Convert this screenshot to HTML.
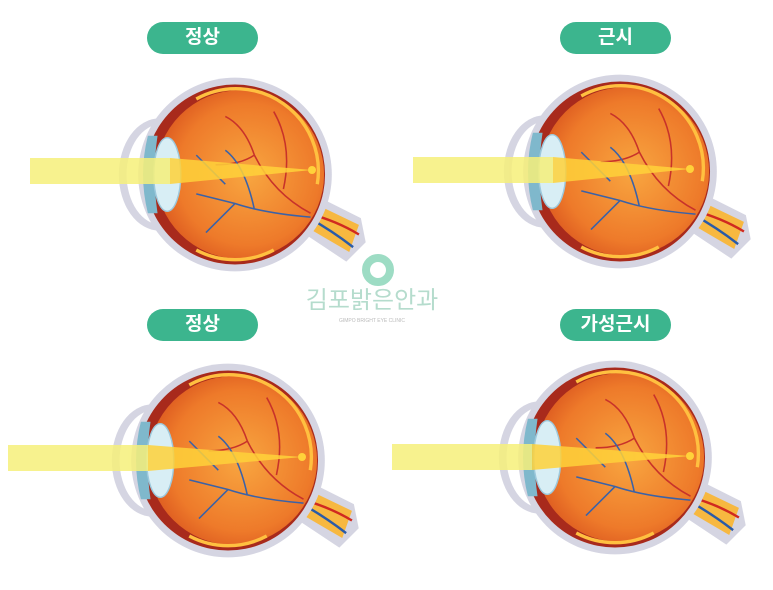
<!DOCTYPE html>
<html><head><meta charset="utf-8"><style>
body{margin:0;background:#fff;width:773px;height:590px;overflow:hidden;font-family:"Liberation Sans","Noto Sans CJK KR",sans-serif}
.pill{position:absolute;height:32px;width:111px;border-radius:16px;background:#3cb58e;color:#fff;font-weight:bold;font-size:19px;text-align:center;line-height:32px}
svg{position:absolute;left:0;top:0}
</style></head><body>
<svg width="773" height="590" viewBox="0 0 773 590">
<defs>
<radialGradient id="g" cx="0.55" cy="0.5" r="0.6"><stop offset="0" stop-color="#f8a640"/><stop offset="0.7" stop-color="#ee7a2a"/><stop offset="1" stop-color="#d9541e"/></radialGradient>
<symbol id="eye" viewBox="-130 -110 260 220" overflow="visible">
<path d="M80 20 L130 45 L135 70 L115 90 L70 60Z" fill="#d5d5e2"/>
<path d="M78 28 L128 52 L118 80 L70 52Z" fill="#f7b840"/>
<path d="M75 40 Q105 48 128 62" stroke="#d02a20" stroke-width="2.5" fill="none"/>
<path d="M75 44 Q100 58 122 75" stroke="#2a5ba8" stroke-width="2.5" fill="none"/>
<ellipse cx="-78" cy="0" rx="42" ry="58" fill="#d5d5e2"/>
<ellipse cx="-76" cy="0" rx="36" ry="52" fill="#fff"/>
<circle r="100" fill="#d5d5e2"/>
<circle r="93" fill="#a82a1c"/>
<circle cx="5" r="87" fill="url(#g)"/>
<path d="M-40 -78 A85 85 0 0 1 85 10" stroke="#ffc040" stroke-width="3.5" fill="none"/>
<path d="M-40 78 A85 85 0 0 0 40 78" stroke="#ffc040" stroke-width="3.5" fill="none"/>
<path d="M-90 -40 Q-100 0 -90 40 L-80 40 Q-86 0 -80 -40Z" fill="#7fb8cc"/>
<ellipse cx="-70" cy="0" rx="14" ry="38" fill="#d8eef5" stroke="#9cc8dc" stroke-width="1.5"/>
<g fill="none" stroke-width="1.6">
<path d="M78 40 Q40 20 20 -20 Q10 -50 -10 -60 M20 -20 Q5 -10 -20 -10 M50 15 Q60 -30 40 -65" stroke="#c8322a"/>
<path d="M78 44 Q30 40 0 30 Q-20 25 -40 20 M0 30 Q-20 50 -30 60 M20 36 Q10 -10 -10 -25 M-10 10 Q-30 -10 -40 -20" stroke="#3a62a8"/>
</g>
</symbol>
</defs>
<use href="#eye" x="109" y="68" width="252" height="213"/>
<use href="#eye" x="494" y="65" width="252" height="213"/>
<use href="#eye" x="102" y="354" width="252" height="213"/>
<use href="#eye" x="489" y="351" width="252" height="213"/>
<g fill="#f6f07a" opacity="0.85">
<rect x="30" y="158" width="140" height="26"/><path d="M170 158 L312 170 L170 184Z" fill="#ffd23a"/>
<rect x="413" y="157" width="140" height="26"/><path d="M553 157 L690 169 L553 183Z" fill="#ffd23a"/>
<rect x="8" y="445" width="140" height="26"/><path d="M148 445 L302 457 L148 471Z" fill="#ffd23a"/>
<rect x="392" y="444" width="140" height="26"/><path d="M532 444 L690 456 L532 470Z" fill="#ffd23a"/>
</g>
<circle cx="312" cy="170" r="4" fill="#ffd23a"/><circle cx="690" cy="169" r="4" fill="#ffd23a"/>
<circle cx="302" cy="457" r="4" fill="#ffd23a"/><circle cx="690" cy="456" r="4" fill="#ffd23a"/>
<circle cx="378" cy="270" r="12" fill="none" stroke="#9ddcc4" stroke-width="8"/>
<text x="372" y="308" font-size="24" fill="#b5dccd" text-anchor="middle" font-family="Noto Sans CJK KR">김포밝은안과</text>
<text x="372" y="322" font-size="5" fill="#bbb" text-anchor="middle">GIMPO BRIGHT EYE CLINIC</text>
</svg>
<div class="pill" style="left:147px;top:22px">정상</div>
<div class="pill" style="left:560px;top:22px">근시</div>
<div class="pill" style="left:147px;top:309px">정상</div>
<div class="pill" style="left:560px;top:309px">가성근시</div>
</body></html>
